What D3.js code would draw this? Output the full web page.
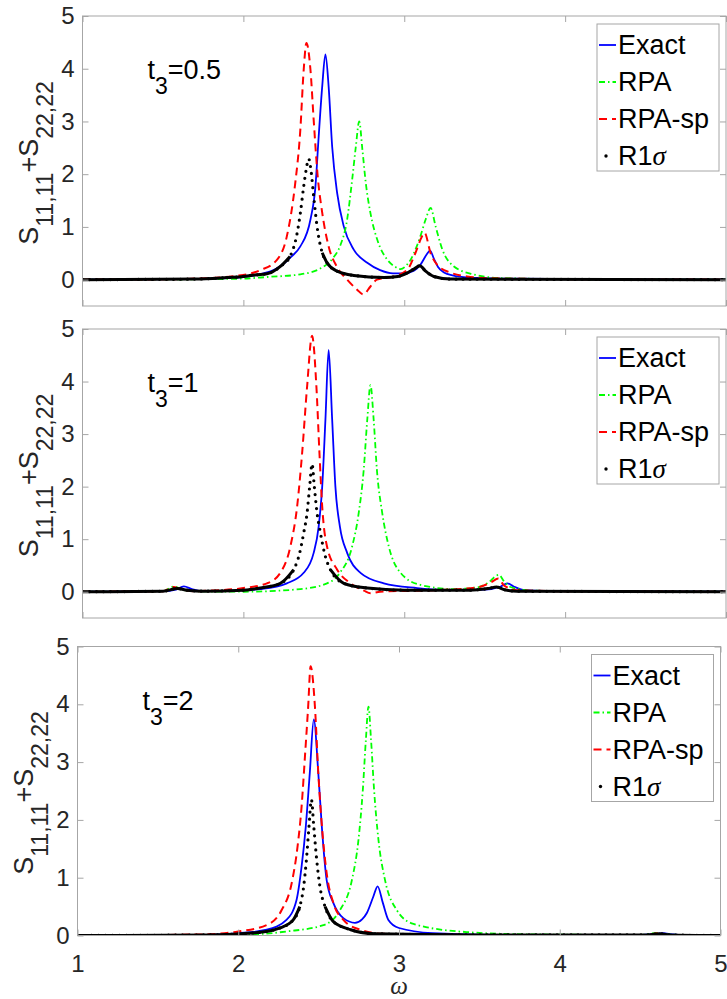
<!DOCTYPE html>
<html>
<head>
<meta charset="utf-8">
<script src="https://cdn.jsdelivr.net/npm/d3@7"></script>
<style>
  body { margin: 0; background: #fff; }
</style>
</head>
<body>
<svg id="chart" width="727" height="999"></svg>
<script>
// values, [omega, S11,11+S22,22]
const xTicks = [1, 2, 3, 4, 5];
const yTicks = [0, 1, 2, 3, 4, 5];
const seriesNames = ["Exact", "RPA", "RPA-sp", "R1"];
const t3Labels = ["0.5", "1", "2"];

// t3 = 0.5
const exact05 = [[1,0],[1.6,0.01],[1.9,0.03],[2.0,0.05],[2.1,0.1],[2.2,0.2],[2.25,0.3],[2.3,0.44],[2.354,0.63],[2.417,1.14],[2.448,1.77],[2.468,2.71],[2.49,3.66],[2.51,4.27],[2.53,3.66],[2.552,2.52],[2.583,1.64],[2.624,1.01],[2.686,0.57],[2.77,0.32],[2.85,0.18],[2.93,0.12],[3.0,0.12],[3.06,0.17],[3.1,0.28],[3.14,0.48],[3.16,0.55],[3.184,0.4],[3.21,0.24],[3.25,0.13],[3.3,0.08],[3.4,0.04],[3.6,0.02],[4,0.01],[5,0]];
const rpa05 = [[1,0],[1.8,0.01],[2.0,0.02],[2.147,0.05],[2.354,0.1],[2.5,0.25],[2.56,0.42],[2.6,0.63],[2.645,1.14],[2.676,1.89],[2.699,2.52],[2.72,3.0],[2.74,2.46],[2.761,1.83],[2.79,1.26],[2.832,0.76],[2.894,0.38],[2.94,0.25],[2.977,0.2],[3.01,0.26],[3.04,0.38],[3.08,0.65],[3.1,0.82],[3.133,1.14],[3.164,1.36],[3.195,1.01],[3.237,0.57],[3.309,0.25],[3.43,0.1],[3.6,0.03],[4,0.01],[5,0]];
const rpasp05 = [[1,0],[1.6,0.01],[1.7,0.02],[1.85,0.04],[1.95,0.07],[2.05,0.12],[2.105,0.18],[2.21,0.38],[2.27,0.82],[2.32,1.77],[2.354,2.84],[2.375,3.98],[2.392,4.49],[2.417,3.98],[2.437,3.03],[2.462,1.96],[2.49,1.27],[2.53,0.63],[2.58,0.25],[2.645,0],[2.707,-0.19],[2.745,-0.28],[2.79,-0.13],[2.83,0],[2.935,0.06],[3.02,0.19],[3.07,0.51],[3.11,0.82],[3.126,0.89],[3.164,0.5],[3.205,0.28],[3.29,0.13],[3.39,0.06],[3.6,0.02],[4,0.01],[5,0]];
const r1s05 = [[1,0],[1.7,0.01],[1.9,0.04],[2.0,0.06],[2.043,0.08],[2.147,0.11],[2.23,0.25],[2.29,0.44],[2.334,0.88],[2.354,1.26],[2.375,1.77],[2.39,2.08],[2.406,2.29],[2.42,2.08],[2.437,1.58],[2.458,1.01],[2.49,0.51],[2.52,0.32],[2.583,0.16],[2.686,0.08],[2.873,0.04],[2.96,0.06],[3.02,0.13],[3.06,0.2],[3.097,0.265],[3.133,0.16],[3.184,0.06],[3.29,0.01],[5,0]];

// t3 = 1
const exact1 = [[1,0],[1.5,0.01],[1.58,0.04],[1.63,0.1],[1.68,0.05],[1.75,0.01],[2.0,0.03],[2.105,0.05],[2.27,0.16],[2.375,0.36],[2.437,0.74],[2.468,1.24],[2.49,2.0],[2.51,3.27],[2.53,4.6],[2.552,3.27],[2.572,2.0],[2.6,1.24],[2.645,0.74],[2.728,0.36],[2.873,0.16],[3.08,0.07],[3.3,0.03],[3.5,0.04],[3.6,0.1],[3.64,0.16],[3.68,0.1],[3.75,0.03],[4,0.01],[5,0]];
const rpa1 = [[1,0],[1.5,0.01],[1.57,0.1],[1.62,0.04],[1.7,0.01],[2.0,0],[2.354,0.05],[2.52,0.16],[2.6,0.36],[2.676,0.86],[2.717,1.5],[2.748,2.32],[2.77,3.27],[2.79,3.93],[2.81,3.27],[2.83,2.32],[2.863,1.5],[2.904,0.86],[2.977,0.36],[3.1,0.13],[3.31,0.05],[3.45,0.08],[3.517,0.16],[3.588,0.32],[3.62,0.2],[3.66,0.09],[3.8,0.02],[4,0.01],[5,0]];
const rpasp1 = [[1,0],[1.5,0.01],[1.565,0.09],[1.61,0.05],[1.7,0.01],[1.79,0.02],[2.0,0.07],[2.147,0.16],[2.23,0.36],[2.292,0.86],[2.334,1.62],[2.365,2.63],[2.396,3.9],[2.427,4.87],[2.454,3.9],[2.473,2.63],[2.49,1.62],[2.52,0.86],[2.583,0.42],[2.666,0.16],[2.75,0.02],[2.79,-0.03],[2.85,0],[3.2,0.03],[3.45,0.08],[3.54,0.18],[3.585,0.25],[3.62,0.12],[3.7,0.03],[4,0.01],[5,0]];
const r1s1 = [[1,0],[1.5,0.01],[1.59,0.06],[1.65,0.03],[1.75,0.01],[2.0,0.03],[2.105,0.07],[2.23,0.16],[2.313,0.42],[2.35,0.74],[2.375,1.12],[2.396,1.5],[2.412,2.0],[2.427,2.43],[2.441,2.0],[2.458,1.5],[2.479,1.12],[2.504,0.74],[2.541,0.42],[2.624,0.16],[2.77,0.07],[3.0,0.03],[3.4,0.03],[3.52,0.06],[3.575,0.09],[3.62,0.04],[3.7,0.01],[5,0]];

// t3 = 2
const exact2 = [[1,0],[1.8,0.01],[2.0,0.04],[2.177,0.1],[2.3,0.27],[2.363,0.62],[2.394,1.19],[2.42,1.88],[2.445,2.81],[2.47,3.74],[2.498,2.81],[2.52,1.88],[2.55,0.96],[2.592,0.56],[2.654,0.3],[2.726,0.22],[2.77,0.28],[2.8,0.39],[2.84,0.67],[2.867,0.85],[2.9,0.56],[2.934,0.27],[3.0,0.13],[3.21,0.04],[3.6,0.01],[4.5,0.01],[4.6,0.03],[4.64,0.04],[4.7,0.02],[4.8,0],[5,0]];
const rpa2 = [[1,0],[2.0,0.01],[2.3,0.07],[2.53,0.18],[2.633,0.44],[2.707,0.96],[2.748,1.66],[2.775,2.52],[2.794,3.39],[2.81,3.96],[2.826,3.39],[2.845,2.52],[2.872,1.66],[2.913,0.96],[2.986,0.44],[3.09,0.2],[3.42,0.06],[3.8,0.02],[4.5,0.01],[4.6,0.04],[4.65,0.02],[5,0]];
const rpasp2 = [[1,0],[1.8,0.02],[2.0,0.07],[2.177,0.18],[2.27,0.44],[2.332,0.9],[2.369,1.54],[2.394,2.23],[2.415,3.1],[2.435,3.96],[2.45,4.66],[2.477,3.96],[2.498,2.81],[2.519,1.94],[2.55,1.08],[2.592,0.56],[2.654,0.27],[2.758,0.1],[2.9,0.03],[3.5,0.01],[4.55,0.01],[4.61,0.04],[4.66,0.01],[5,0]];
const r1s2 = [[1,0],[1.8,0.01],[2.12,0.05],[2.26,0.13],[2.342,0.27],[2.383,0.5],[2.407,0.85],[2.424,1.31],[2.44,1.88],[2.455,2.35],[2.47,1.88],[2.488,1.31],[2.508,0.85],[2.54,0.5],[2.592,0.24],[2.7,0.1],[2.85,0.03],[3.5,0.01],[4.55,0.01],[4.62,0.03],[4.68,0.01],[5,0]];

const font = "'Liberation Sans', Arial, Helvetica, sans-serif";
const axisColor = "#a6a6a6";
const textColor = "#262626";
const dotThreshold = 0.55;

const styles = [
  { color: "#0000ff", width: 1.8, dash: null },
  { color: "#00ff00", width: 1.8, dash: "6,3,1.5,3" },
  { color: "#ff0000", width: 2, dash: "8,5" },
  { color: "#000000", width: 3, dash: "dots" }
];

const panels = [
  { left: 82.5, right: 726, top: 16, bottom: 306, ymin: -0.5, xLabels: false, series: [exact05, rpa05, rpasp05, r1s05] },
  { left: 82.5, right: 726, top: 329, bottom: 618, ymin: -0.5, xLabels: false, series: [exact1, rpa1, rpasp1, r1s1] },
  { left: 77.5, right: 720.5, top: 646.5, bottom: 935.5, ymin: 0, xLabels: true, series: [exact2, rpa2, rpasp2, r1s2] }
];

const svg = d3.select("#chart");

function styleAxis(ax, showText) {
  ax.select(".domain").remove();
  ax.selectAll("line").attr("stroke", axisColor);
  ax.selectAll("text")
    .attr("fill", textColor)
    .attr("font-size", 24)
    .attr("font-family", font)
    .style("display", showText ? null : "none");
}

panels.forEach((p, i) => {
  const x = d3.scaleLinear().domain([1, 5]).range([p.left, p.right]);
  const y = d3.scaleLinear().domain([p.ymin, 5]).range([p.bottom, p.top]);
  const g = svg.append("g");

  g.append("clipPath").attr("id", "clip" + i)
    .append("rect")
    .attr("x", p.left).attr("y", p.top)
    .attr("width", p.right - p.left).attr("height", p.bottom - p.top);

  const plot = g.append("g").attr("clip-path", `url(#clip${i})`);

  p.series.forEach((data, k) => {
    const st = styles[k];
    const line = d3.line().x(d => x(d[0])).y(d => y(d[1])).curve(d3.curveMonotoneX);
    if (st.dash === "dots") {
      // marker trace: dots separate on the steep flanks, merge where flat
      plot.append("path")
        .attr("d", line(data))
        .attr("fill", "none")
        .attr("stroke", st.color)
        .attr("stroke-width", 3.2)
        .attr("stroke-linecap", "round")
        .attr("stroke-dasharray", "0,7");
      plot.append("path")
        .attr("d", line.defined(d => d[1] < dotThreshold)(data))
        .attr("fill", "none")
        .attr("stroke", st.color)
        .attr("stroke-width", st.width);
    } else {
      plot.append("path")
        .attr("d", line(data))
        .attr("fill", "none")
        .attr("stroke", st.color)
        .attr("stroke-width", st.width)
        .attr("stroke-dasharray", st.dash);
    }
  });

  // box
  g.append("rect")
    .attr("x", p.left).attr("y", p.top)
    .attr("width", p.right - p.left).attr("height", p.bottom - p.top)
    .attr("fill", "none").attr("stroke", axisColor);

  const axB = g.append("g").attr("transform", `translate(0,${p.bottom})`)
    .call(d3.axisBottom(x).tickValues(xTicks).tickSize(-6).tickSizeOuter(0).tickPadding(19).tickFormat(d3.format("d")));
  styleAxis(axB, p.xLabels);
  const axT = g.append("g").attr("transform", `translate(0,${p.top})`)
    .call(d3.axisTop(x).tickValues(xTicks).tickSize(-6).tickSizeOuter(0));
  styleAxis(axT, false);
  const axL = g.append("g").attr("transform", `translate(${p.left},0)`)
    .call(d3.axisLeft(y).tickValues(yTicks).tickSize(-6).tickSizeOuter(0).tickPadding(8).tickFormat(d3.format("d")));
  styleAxis(axL, true);
  const axR = g.append("g").attr("transform", `translate(${p.right},0)`)
    .call(d3.axisRight(y).tickValues(yTicks).tickSize(-6).tickSizeOuter(0));
  styleAxis(axR, false);

  // y label
  const yl = g.append("text")
    .attr("transform", `translate(${p.left - 45},${(p.top + p.bottom) / 2 + 2}) rotate(-90)`)
    .attr("text-anchor", "middle")
    .attr("font-family", font)
    .attr("font-size", 27)
    .attr("fill", textColor);
  yl.append("tspan").text("S");
  yl.append("tspan").attr("font-size", 23).attr("dy", 15).text("11,11");
  yl.append("tspan").attr("dy", -15).text("+S");
  yl.append("tspan").attr("font-size", 23).attr("dy", 15).text("22,22");

  // t3 annotation
  const ann = g.append("text")
    .attr("x", p.left + 65).attr("y", p.top + 63)
    .attr("font-family", font).attr("font-size", 27).attr("fill", "#000");
  ann.append("tspan").text("t");
  ann.append("tspan").attr("font-size", 23).attr("dy", 15).text("3");
  ann.append("tspan").attr("dy", -15).text("=" + t3Labels[i]);

  // legend
  const lw = 122, lh = 147;
  const lx = p.right - 7 - lw, ly = p.top + 8;
  const leg = g.append("g");
  leg.append("rect").attr("x", lx).attr("y", ly).attr("width", lw).attr("height", lh)
    .attr("fill", "#fff").attr("stroke", axisColor);
  seriesNames.forEach((name, k) => {
    const st = styles[k];
    const by = ly + 30 + k * 37;
    if (st.dash === "dots") {
      leg.append("circle").attr("cx", lx + 9).attr("cy", by - 9).attr("r", 1.7).attr("fill", st.color);
    } else {
      leg.append("line")
        .attr("x1", lx + 2).attr("x2", lx + 19)
        .attr("y1", by - 9).attr("y2", by - 9)
        .attr("stroke", st.color).attr("stroke-width", st.width)
        .attr("stroke-dasharray", st.dash);
    }
    const t = leg.append("text").attr("x", lx + 21).attr("y", by)
      .attr("font-family", font).attr("font-size", 27).attr("fill", "#000").text(name);
    if (st.dash === "dots") {
      t.append("tspan").attr("font-family", "'Liberation Serif', serif").attr("font-style", "italic").text("σ");
    }
  });

  if (p.xLabels) {
    g.append("text")
      .attr("x", (p.left + p.right) / 2).attr("y", 994)
      .attr("text-anchor", "middle")
      .attr("font-family", "'Liberation Serif', serif")
      .attr("font-style", "italic")
      .attr("font-size", 25)
      .attr("fill", textColor)
      .text("ω");
  }
});
</script>
</body>
</html>
